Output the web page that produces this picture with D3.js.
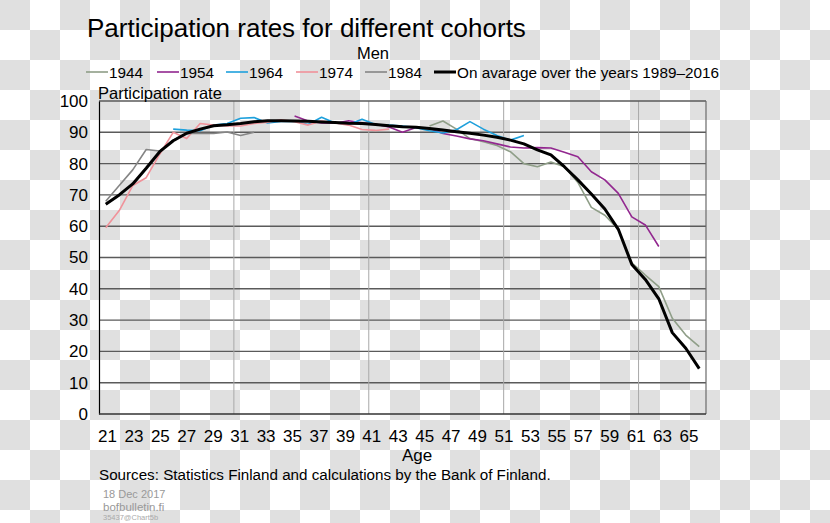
<!DOCTYPE html>
<html><head><meta charset="utf-8">
<script src="https://cdn.jsdelivr.net/npm/d3@7"></script>
<style>
html,body{margin:0;padding:0;background:#fff;}
svg{display:block;font-family:"Liberation Sans",Arial,sans-serif;}
</style></head>
<body>
<svg id="chart" width="830" height="523"></svg>
<script>
// ---- data ----
const ages = [21,22,23,24,25,26,27,28,29,30,31,32,33,34,35,36,37,38,39,40,41,42,43,44,45,46,47,48,49,50,51,52,53,54,55,56,57,58,59,60,61,62,63,64,65];
const ageTickLabels = [21,23,25,27,29,31,33,35,37,39,41,43,45,47,49,51,53,55,57,59,61,63,65];
const yTicks = [0,10,20,30,40,50,60,70,80,90,100];

const cohort1944Start = 45;
const cohort1944 = [92,93.6,91,88,87,85.8,83.8,80,79,80.5,79,74,66,63.5,59,48.3,44.4,40.7,30.6,25.2,21.5];
const cohort1954Start = 35;
const cohort1954 = [95.2,93.6,93,92.9,93.7,93,92.6,91.7,90,91.5,91.2,89.6,88.8,87.9,87.3,86.3,85.3,85,85.1,85,83.6,82.2,77.4,74.8,70.5,63,60.4,53.5];
const cohort1964Start = 26;
const cohort1964 = [91,90.7,90.5,92.3,92.8,94.5,94.7,93,93.5,93.5,92.5,94.8,93,92.5,94.2,92.5,92.3,92,91.5,90.5,89.8,90.8,93.4,91,89,87.5,89];
const cohort1974Start = 21;
const cohort1974 = [59.5,65,73,75.5,83,90,88,92.8,92.3,92,92,92.8,93.2,94,93.4,92.3,93.6,93,92.3,90.9,90.6,91];
const cohort1984Start = 21;
const cohort1984 = [68,73,78,84.5,84,87.5,89.6,89.6,89.6,90.1,89,90];
const average = [67,70,73.5,78.5,83.8,87.3,89.7,91,92.1,92.4,92.8,93.4,93.7,93.7,93.6,93.5,93.3,93.1,92.9,92.8,92.5,92.1,91.8,91.6,91.2,90.7,90.2,89.7,89.1,88.4,87.5,86.3,84.4,82.8,79,74.8,70.3,65.5,59,47.8,43,36.8,26,21,14.5];

const seriesNames = ["1944","1954","1964","1974","1984","On avarage over the years 1989\u20132016"];
const seriesColors = ["#8f9e88","#92278f","#1ea0dc","#f0929a","#858585","#000000"];

// ---- build ----
const svg = d3.select("#chart");
const W = 830, H = 523;

// checkerboard background
const defs = svg.append("defs");
const pat = defs.append("pattern").attr("id","checker").attr("width",60).attr("height",60).attr("patternUnits","userSpaceOnUse");
pat.append("rect").attr("width",60).attr("height",60).attr("fill","#ffffff");
pat.append("rect").attr("x",0).attr("y",0).attr("width",30).attr("height",30).attr("fill","#e0e0e0");
pat.append("rect").attr("x",30).attr("y",30).attr("width",30).attr("height",30).attr("fill","#e0e0e0");
svg.append("rect").attr("width",W).attr("height",H).attr("fill","url(#checker)");

const L = 99, R = 706, T = 101, B = 414;
const x = d3.scalePoint().domain(ages).range([L,R]).padding(0.5);
// category labels sit on a slightly narrower band, as in the source chart
const xLabel = d3.scalePoint().domain(ages).range([100.4,695.1]).padding(0.5);
const y = d3.scaleLinear().domain([0,100]).range([B,T]);
const step = x.step();

// horizontal gridlines
svg.append("g").selectAll("line").data(yTicks.filter(v=>v>0 && v<100)).join("line")
  .attr("x1",L).attr("x2",R).attr("y1",d=>y(d)).attr("y2",d=>y(d))
  .attr("stroke","#5a5a5a").attr("stroke-width",1.4);
// vertical gridlines every 10 categories
svg.append("g").selectAll("line").data([31,41,51,61]).join("line")
  .attr("x1",d=>x(d)-step/2).attr("x2",d=>x(d)-step/2).attr("y1",T).attr("y2",B)
  .attr("stroke","#a8a8a8").attr("stroke-width",1);
// frame
svg.append("line").attr("x1",L).attr("x2",R).attr("y1",y(100)).attr("y2",y(100)).attr("stroke","#5a5a5a").attr("stroke-width",1.4);
svg.append("line").attr("x1",R).attr("x2",R).attr("y1",T).attr("y2",B).attr("stroke","#6a6a6a").attr("stroke-width",1.2);

// axes
const yAxis = svg.append("g").attr("transform",`translate(${L},0)`)
  .call(d3.axisLeft(y).tickValues(yTicks).tickSize(0).tickPadding(11));
yAxis.select(".domain").attr("stroke","#000").attr("stroke-width",1.2);
yAxis.selectAll("text").attr("font-size",17).attr("fill","#000").attr("font-family","Liberation Sans, Arial, sans-serif");

svg.append("line").attr("x1",L).attr("x2",R).attr("y1",B).attr("y2",B).attr("stroke","#333").attr("stroke-width",1.4);
const xAxis = svg.append("g").attr("transform",`translate(0,${B})`)
  .call(d3.axisBottom(xLabel).tickValues(ageTickLabels).tickSize(0).tickPadding(16));
xAxis.select(".domain").remove();
xAxis.selectAll("text").attr("font-size",17).attr("fill","#000").attr("font-family","Liberation Sans, Arial, sans-serif");

// lines
function toPoints(start, vals){ return vals.map((v,i)=>({age:start+i, v})); }
const series = [
  toPoints(cohort1944Start, cohort1944),
  toPoints(cohort1954Start, cohort1954),
  toPoints(cohort1964Start, cohort1964),
  toPoints(cohort1974Start, cohort1974),
  toPoints(cohort1984Start, cohort1984),
  ages.map((a,i)=>({age:a, v:average[i]}))
];
const line = d3.line().x(d=>x(d.age)).y(d=>y(d.v));
svg.append("g").selectAll("path").data(series).join("path")
  .attr("d",line).attr("fill","none")
  .attr("stroke",(d,i)=>seriesColors[i])
  .attr("stroke-width",(d,i)=>i===5?3:1.6)
  .attr("stroke-linejoin","round");

// titles
svg.append("text").attr("x",87).attr("y",37).attr("font-size",26).attr("fill","#000").text("Participation rates for different cohorts");
svg.append("text").attr("x",373).attr("y",59).attr("text-anchor","middle").attr("font-size",16.5).text("Men");
svg.append("text").attr("x",98).attr("y",99).attr("font-size",16.5).text("Participation rate");

// legend
const legendX = [86,157,226,296,365,434];
const lg = svg.append("g");
seriesNames.forEach((n,i)=>{
  lg.append("line").attr("x1",legendX[i]).attr("x2",legendX[i]+22).attr("y1",72).attr("y2",72)
    .attr("stroke",seriesColors[i]).attr("stroke-width",i===5?3:1.6);
  lg.append("text").attr("x",legendX[i]+23).attr("y",77.5).attr("font-size",15.3).text(n);
});

svg.append("text").attr("x",417).attr("y",461).attr("text-anchor","middle").attr("font-size",17).text("Age");
svg.append("text").attr("x",99).attr("y",480).attr("font-size",15.2).text("Sources: Statistics Finland and calculations by the Bank of Finland.");
svg.append("text").attr("x",103).attr("y",498).attr("font-size",11).attr("fill","#999").text("18 Dec 2017");
svg.append("text").attr("x",103).attr("y",511).attr("font-size",11.5).attr("fill","#999").text("bofbulletin.fi");
svg.append("text").attr("x",103).attr("y",520).attr("font-size",7.5).attr("fill","#aaa").text("35437@Chart5b");
</script>
</body></html>
